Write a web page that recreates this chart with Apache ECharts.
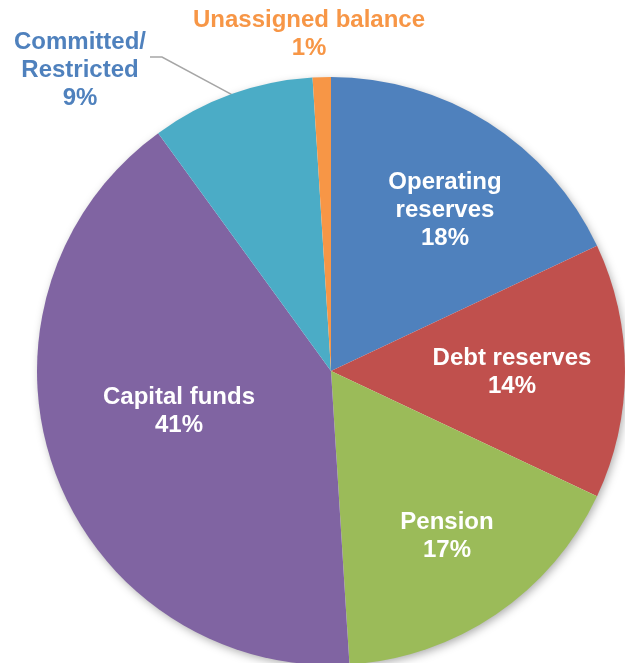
<!DOCTYPE html>
<html>
<head>
<meta charset="utf-8">
<script src="https://cdn.jsdelivr.net/npm/echarts@6/dist/echarts.min.js"></script>
<style>
  html, body { margin: 0; padding: 0; background: #ffffff; }
  #chart { width: 625px; height: 663px; }
</style>
</head>
<body>
<div id="chart"></div>
<script>
// Fund balance shares, clockwise from 12 o'clock
const categories = [
  'Operating\nreserves',
  'Debt reserves',
  'Pension',
  'Capital funds',
  'Committed/\nRestricted',
  'Unassigned balance'
];
const shares = [18, 14, 17, 41, 9, 1];
const sliceColors = ['#4F81BD', '#C0504D', '#9BBB59', '#8064A2', '#4BACC6', '#F79646'];

// label anchor points (centre of each text block)
const labelSpots = [
  [445, 210], [512, 372], [447, 536], [179, 411], [80, 70], [309, 34]
];
const outsideLabel = { 4: '#4F81BD', 5: '#F79646' };

const chart = echarts.init(document.getElementById('chart'), null, { renderer: 'canvas' });

const pieCenter = [331, 371];
const pieRadius = 294;
const total = shares.reduce((a, b) => a + b, 0);

// point on the rim at the middle of slice i
function rimPoint(i) {
  let before = 0;
  for (let k = 0; k < i; k++) before += shares[k];
  const frac = (before + shares[i] / 2) / total;
  const ang = frac * Math.PI * 2;
  return [pieCenter[0] + pieRadius * Math.sin(ang), pieCenter[1] - pieRadius * Math.cos(ang)];
}

chart.setOption({
  backgroundColor: '#ffffff',
  animation: false,
  series: [
    {
      // soft drop shadow under the disc
      type: 'pie',
      silent: true,
      center: pieCenter,
      radius: pieRadius - 1,
      label: { show: false },
      labelLine: { show: false },
      itemStyle: {
        color: '#ffffff',
        shadowBlur: 10,
        shadowColor: 'rgba(0,0,0,0.35)',
        shadowOffsetX: 2,
        shadowOffsetY: 3
      },
      data: [{ value: 1, name: '' }]
    },
    {
      type: 'pie',
      center: pieCenter,
      radius: pieRadius,
      startAngle: 90,
      clockwise: true,
      avoidLabelOverlap: false,
      itemStyle: { borderWidth: 0 },
      label: {
        show: true,
        position: 'inside',
        formatter: p => p.name + '\n' + p.value + '%',
        fontFamily: '"Liberation Sans", Arial, sans-serif',
        fontWeight: 'bold',
        fontSize: 24,
        lineHeight: 28,
        color: '#ffffff',
        align: 'center'
      },
      labelLine: { show: false },
      labelLayout: function (params) {
        const i = params.dataIndex;
        const s = labelSpots[i];
        const out = { x: s[0], y: s[1], align: 'center', verticalAlign: 'middle' };
        if (i === 4) {
          // leader runs from the rim to the right of the first text line
          const rim = rimPoint(i);
          out.labelLinePoints = [rim, [s[0] + 82, s[1] - 13], [s[0] + 70, s[1] - 13]];
        }
        return out;
      },
      data: categories.map((name, i) => {
        const item = {
          name: name,
          value: shares[i],
          itemStyle: { color: sliceColors[i] }
        };
        if (outsideLabel[i]) {
          item.label = { position: 'outside', color: outsideLabel[i] };
          item.labelLine = {
            show: i === 4,
            length: 20,
            length2: 12,
            lineStyle: { color: '#A6A6A6', width: 1.5 }
          };
        }
        return item;
      })
    }
  ]
});
</script>
</body>
</html>
